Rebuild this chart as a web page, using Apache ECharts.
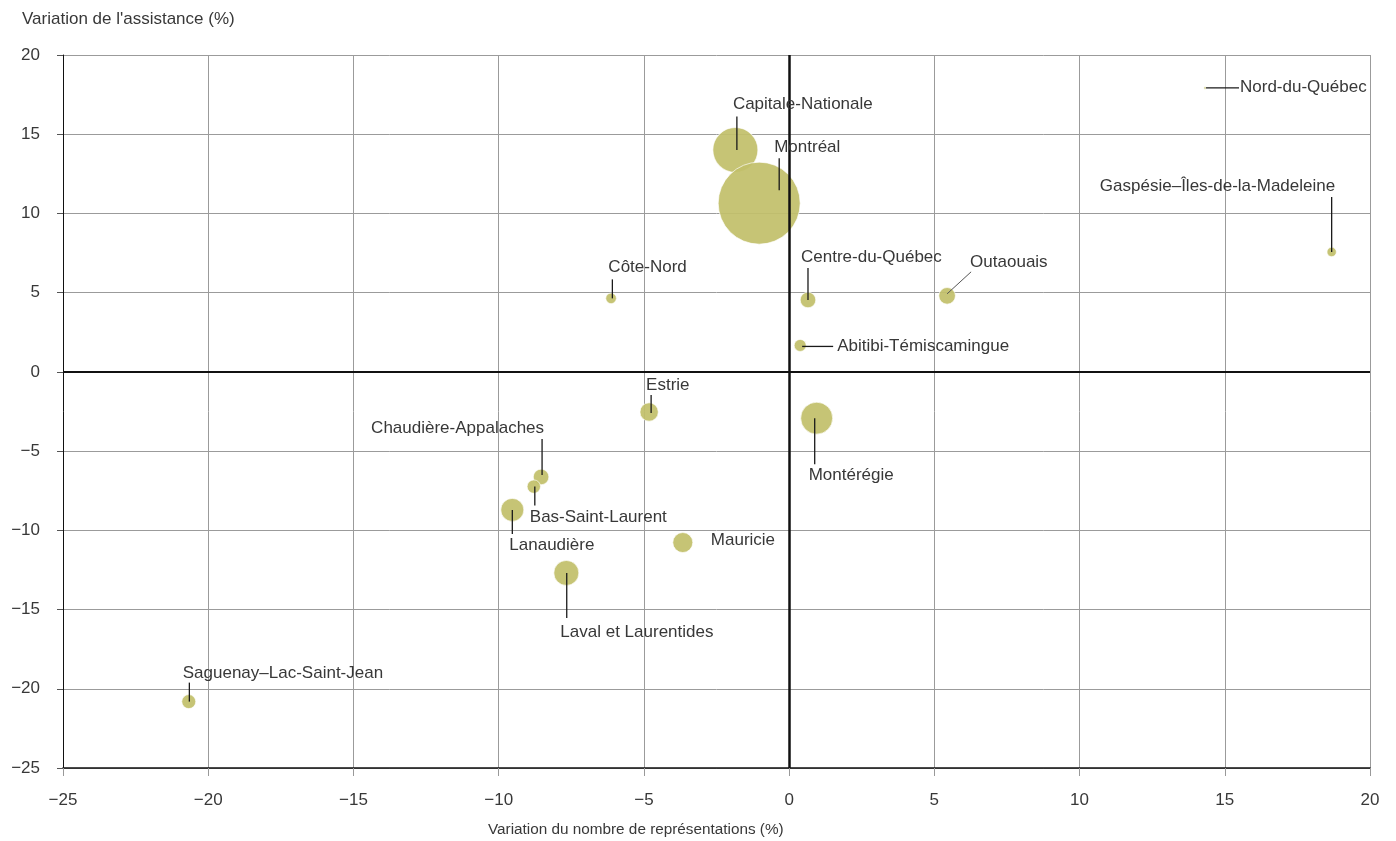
<!DOCTYPE html>
<html>
<head>
<meta charset="utf-8">
<script src="https://cdn.jsdelivr.net/npm/echarts@6/dist/echarts.min.js"></script>
<style>
html,body{margin:0;padding:0;background:#fff;}
#chart{width:1396px;height:841px;}
</style>
</head>
<body>
<div id="chart"></div>
<script>
// ---- Data ----
var regions = ["Capitale-Nationale","Montréal","Nord-du-Québec","Gaspésie–Îles-de-la-Madeleine","Côte-Nord","Centre-du-Québec","Outaouais","Abitibi-Témiscamingue","Estrie","Montérégie","Chaudière-Appalaches","Bas-Saint-Laurent","Lanaudière","Mauricie","Laval et Laurentides","Saguenay–Lac-Saint-Jean"];
var varRepresentations = [-1.85, -1.03, 14.32, 18.68, -6.13, 0.65, 5.44, 0.38, -4.82, 0.95, -8.54, -8.79, -9.53, -3.66, -7.67, -20.67];
var varAssistance = [14.0, 10.65, 17.92, 7.57, 4.64, 4.54, 4.80, 1.67, -2.53, -2.92, -6.63, -7.24, -8.71, -10.77, -12.69, -20.81];
var poids = [30.1, 100, 0.09, 1.31, 1.67, 3.62, 4.10, 2.14, 5.03, 15.2, 3.62, 2.67, 7.87, 5.95, 9.29, 2.92];
var xTicks = [-25, -20, -15, -10, -5, 0, 5, 10, 15, 20];
var yTicks = [-25, -20, -15, -10, -5, 0, 5, 10, 15, 20];

// ---- Label placement (pixel offsets from bubble centre) ----
var labelLayout = [
  {dx:-2.5, dy:-46, line:[1.5,0,1.5,-33.5]},
  {dx:15, dy:-56, line:[20,-13,20,-45]},
  {dx:35, dy:-1, line:[1,0,34,0]},
  {dx:3.5, dy:-66, align:'right', line:[0,0,0,-55]},
  {dx:-2.7, dy:-30.8, line:[1.3,0,1.3,-19]},
  {dx:-7, dy:-43, line:[0,0,0,-32]},
  {dx:23, dy:-34, line:[0,-2,24,-24], lineColor:'#555', lineWidth:1},
  {dx:37, dy:1, line:[2,1,33,1]},
  {dx:-3, dy:-27, line:[2,1,2,-17]},
  {dx:-8, dy:57.5, line:[-2,0,-2,46]},
  {dx:3, dy:-49, align:'right', line:[1,-2,1,-38]},
  {dx:-4, dy:31, line:[1,0,1,19]},
  {dx:-3, dy:35.5, line:[0,0,0,24]},
  {dx:28, dy:-2},
  {dx:-6, dy:59.5, line:[0.4,0,0.4,45]},
  {dx:-6, dy:-28, line:[0.6,0,0.6,-19]}
];

var FONT = '"Liberation Sans", Arial, sans-serif';
var TXT = '#383838';

var bubbleData = regions.map(function(n, i){ return [varRepresentations[i], varAssistance[i], poids[i], n]; });
var labelData = regions.map(function(n, i){ return [varRepresentations[i], varAssistance[i]]; });

function minus(v){ return String(v).replace('-', '\u2212'); }

var chart = echarts.init(document.getElementById('chart'), null, {renderer:'canvas'});
chart.setOption({
  animation:false,
  backgroundColor:'#ffffff',
  title:{
    text:"Variation de l'assistance (%)",
    left:17, top:6,
    textStyle:{fontFamily:FONT, fontSize:17, fontWeight:'normal', color:TXT}
  },
  grid:{left:63, right:26, top:55, bottom:73},
  xAxis:{
    type:'value', min:-25, max:20, interval:5,
    axisLine:{show:true, onZero:false, lineStyle:{color:'#111', width:1.5}},
    axisTick:{show:true, length:8, lineStyle:{color:'#999', width:1}},
    axisLabel:{margin:24, fontFamily:FONT, fontSize:17, color:TXT, formatter:function(v){ return minus(v); }},
    splitLine:{show:true, lineStyle:{color:'#9b9b9b', width:1}}
  },
  yAxis:{
    type:'value', min:-25, max:20, interval:5,
    axisLine:{show:true, onZero:false, lineStyle:{color:'#111', width:1}},
    axisTick:{show:true, length:6, lineStyle:{color:'#555', width:1}},
    axisLabel:{margin:23, fontFamily:FONT, fontSize:17, color:TXT, formatter:function(v){ return minus(v); }},
    splitLine:{show:true, lineStyle:{color:'#9b9b9b', width:1}}
  },
  graphic:[{
    type:'text', left:488, top:822,
    style:{text:'Variation du nombre de représentations (%)', font:'15.3px ' + FONT, fill:TXT}
  }],
  series:[
    {
      type:'scatter', data:[], z:1, silent:true,
      markLine:{
        silent:true, symbol:'none', label:{show:false}, animation:false,
        data:[
          {xAxis:0, lineStyle:{color:'#111', width:2.5, type:'solid'}},
          {yAxis:0, lineStyle:{color:'#111', width:2, type:'solid'}}
        ]
      }
    },
    {
      type:'scatter', z:3,
      data:bubbleData,
      symbolSize:function(v){ return 82 * Math.sqrt(v[2] / 100); },
      itemStyle:{color:'#c2c06b', opacity:0.93, borderColor:'rgba(255,255,255,0.7)', borderWidth:1}
    },
    {
      type:'custom', z:5, clip:false, silent:true,
      data:labelData,
      encode:{x:0, y:1},
      renderItem:function(params, api){
        var i = params.dataIndex;
        var c = api.coord([api.value(0), api.value(1)]);
        var L = labelLayout[i];
        var children = [];
        if (L.line) {
          children.push({type:'line', shape:{x1:c[0]+L.line[0], y1:c[1]+L.line[1], x2:c[0]+L.line[2], y2:c[1]+L.line[3]},
            style:{stroke:L.lineColor || '#1a1a1a', lineWidth:L.lineWidth || 1.3}});
        }
        children.push({type:'text', x:c[0]+L.dx, y:c[1]+L.dy,
          style:{text:regions[i], fill:TXT, font:'17px ' + FONT, align:L.align || 'left', verticalAlign:'middle'}});
        return {type:'group', children:children};
      }
    }
  ]
});
</script>
</body>
</html>
